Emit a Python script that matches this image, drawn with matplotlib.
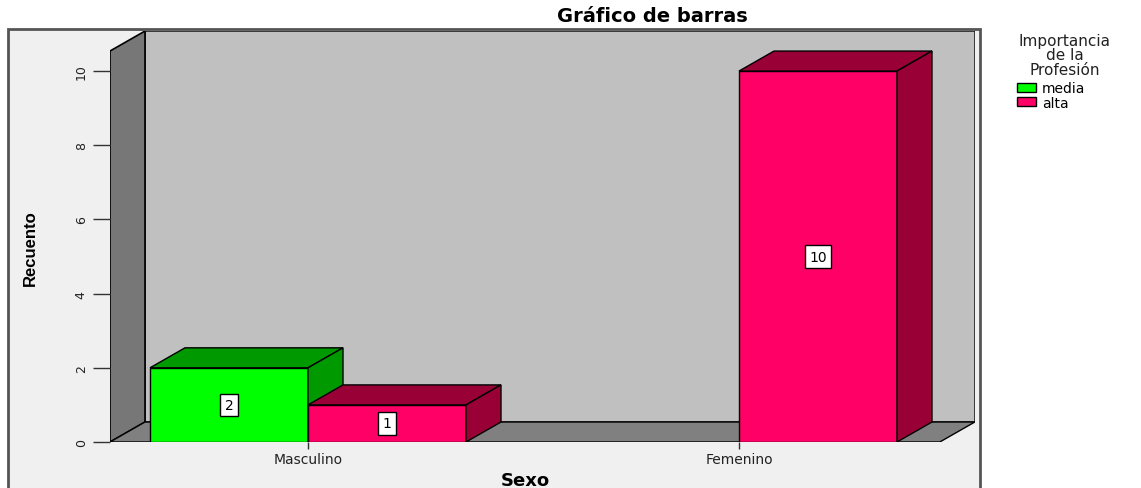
import matplotlib.pyplot as plt
from matplotlib.patches import Polygon, Rectangle, Patch

# data
categories = ['Masculino', 'Femenino']
series = ['media', 'alta']
media = [2, 0]
alta = [1, 10]
yticks = [0, 2, 4, 6, 8, 10]

front_cols = ['#00ff00', '#ff0066']
dark_cols = ['#009900', '#990036']

W, H = 1141, 489
fig = plt.figure(figsize=(W / 100, H / 100), dpi=100)


def fx(px):
    return px / W


def fy(py):
    return 1 - py / H


# light grey chart frame (behind the axes)
fig.patches.append(Rectangle((fx(8), fy(495)), fx(980) - fx(8), fy(30) - fy(495),
                             transform=fig.transFigure, fc='#f0f0f0', ec='#555555',
                             lw=2, zorder=-5))

ax = fig.add_axes([fx(110), fy(443), fx(975) - fx(110), fy(32) - fy(443)])
ax.set_xlim(-0.4594, 1.5476)
ax.set_ylim(0, 11.08)
ax.patch.set_visible(False)
for s in ax.spines.values():
    s.set_visible(False)

# 3d depth offsets (data units)
dx, dy = 0.0812, 0.539
w = 0.3666
xl, xr = -0.4594, 1.466
ytop = 10.54

# back wall, left wall, floor
ax.add_patch(Polygon([(xl + dx, dy), (1.5476, dy), (1.5476, ytop + dy), (xl + dx, ytop + dy)],
                     closed=True, fc='#c0c0c0', ec='#222222', lw=1.2, zorder=1))
ax.add_patch(Polygon([(xl, 0), (xl + dx, dy), (xl + dx, ytop + dy), (xl, ytop)],
                     closed=True, fc='#777777', ec='black', lw=1.2, zorder=1))
ax.add_patch(Polygon([(xl, 0), (xr, 0), (xr + dx, dy), (xl + dx, dy)],
                     closed=True, fc='#808080', ec='black', lw=1.0, zorder=1))

vals = [media, alta]
z = 3
for i, cat in enumerate(categories):
    for j, name in enumerate(series):
        h = vals[j][i]
        if h == 0:
            continue
        x0 = i + (j - 1) * w
        ax.add_patch(Rectangle((x0, 0), w, h, fc=front_cols[j], ec='black', lw=1, zorder=z))
        ax.add_patch(Polygon([(x0, h), (x0 + w, h), (x0 + w + dx, h + dy), (x0 + dx, h + dy)],
                             closed=True, fc=dark_cols[j], ec='black', lw=1, zorder=z))
        ax.add_patch(Polygon([(x0 + w, 0), (x0 + w + dx, dy), (x0 + w + dx, h + dy), (x0 + w, h)],
                             closed=True, fc=dark_cols[j], ec='black', lw=1, zorder=z))
        ax.text(x0 + w / 2, h / 2, str(h), ha='center', va='center', fontsize=10,
                zorder=z + 1,
                bbox=dict(boxstyle='square,pad=0.3', fc='white', ec='black', lw=1))
        z += 2

ax.set_yticks(yticks)
ax.set_yticklabels([str(t) for t in yticks])
ax.set_xticks(range(len(categories)))
ax.set_xticklabels(categories)
ax.tick_params(axis='y', length=12, width=1, color='#333333', pad=4,
               labelrotation=90, labelsize=9, labelcolor='#222222')
ax.tick_params(axis='x', length=5, width=1, color='#333333', pad=2,
               labelsize=10, labelcolor='#222222')
for lab in ax.get_yticklabels():
    lab.set_va('center')

fig.text(fx(652), fy(16), 'Gráfico de barras', ha='center', va='center',
         fontsize=14, fontweight='bold')
fig.text(fx(525), fy(481), 'Sexo', ha='center', va='center',
         fontsize=13, fontweight='bold')
fig.text(fx(30), fy(248), 'Recuento', ha='center', va='center', rotation=90,
         fontsize=12, fontweight='bold', family=['Liberation Sans', 'DejaVu Sans'])

# legend
fig.text(fx(1065), fy(56), 'Importancia\nde la\nProfesión', ha='center', va='center',
         fontsize=11, linespacing=0.95, color='#222222')
handles = [Patch(fc=front_cols[j], ec='black', label=series[j]) for j in range(len(series))]
fig.legend(handles=handles, loc='upper left', bbox_to_anchor=(fx(1017), fy(82)),
           frameon=False, fontsize=10, handlelength=1.4, handleheight=0.6,
           handletextpad=0.4, labelspacing=0.05, borderaxespad=0, borderpad=0)

fig.savefig('out.png', dpi=100)
